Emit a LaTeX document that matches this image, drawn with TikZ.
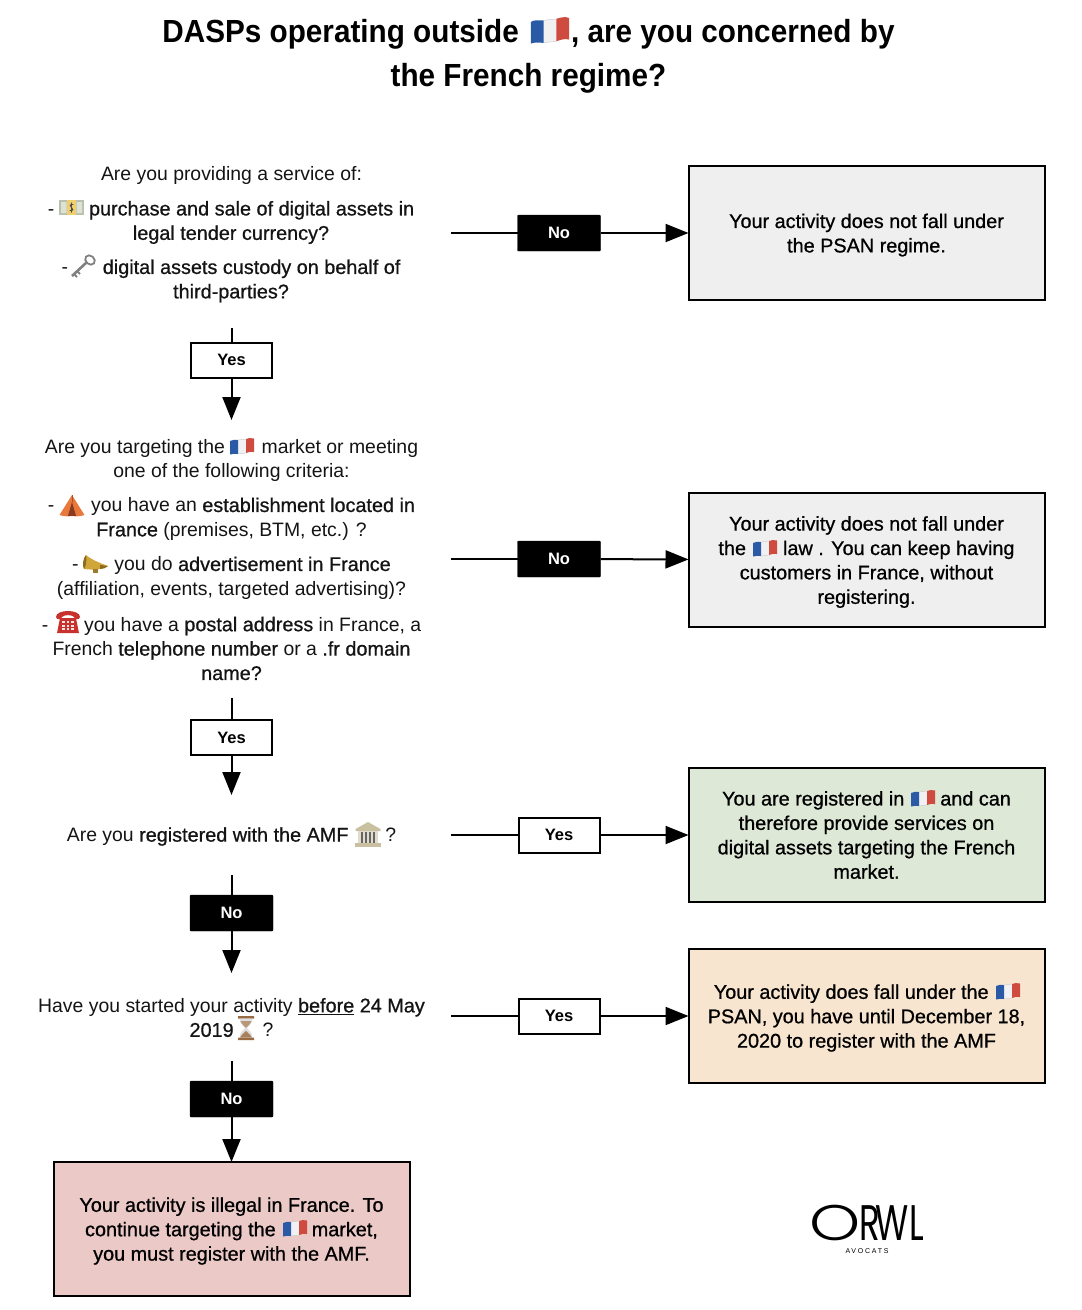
\documentclass[tikz,border=0pt]{standalone}
\usepackage{fontspec}
\usetikzlibrary{arrows.meta}
\setmainfont{Liberation Sans}
\newfontfamily\medf[FakeBold=0.8,Scale=1.022]{Liberation Sans}
\newfontfamily\titlef[FakeStretch=0.928]{Liberation Sans}
\newfontfamily\logoround[FakeStretch=1.3]{Poppins Light}
\newfontfamily\logonarrow[FakeStretch=0.68]{Poppins}
\newcommand{\md}[1]{{\medf #1}}
\newcommand{\firstline}{\rule{0pt}{18.5pt}}
\newcommand{\lowlabel}[1]{\raisebox{-2pt}{#1}}
\definecolor{boxgrey}{HTML}{EFEFEF}
\definecolor{boxgreen}{HTML}{DDE8D6}
\definecolor{boxorange}{HTML}{F8E5CF}
\definecolor{boxred}{HTML}{EBC9C7}
\definecolor{flagblue}{HTML}{2A5AA5}
\definecolor{flagred}{HTML}{CF4A3F}
\definecolor{flagwhite}{HTML}{F1F1F3}
\definecolor{moneygrey}{HTML}{B9C0AE}
\definecolor{moneygreen}{HTML}{DDE2D2}
\definecolor{moneyyellow}{HTML}{EFCF6E}
\definecolor{keygrey}{HTML}{808080}
\definecolor{tentorange}{HTML}{E8783C}
\definecolor{tentdark}{HTML}{8A3A1E}
\definecolor{horngold}{HTML}{D0A63A}
\definecolor{horndark}{HTML}{8E6A1E}
\definecolor{phonered}{HTML}{C8322E}
\definecolor{bankbeige}{HTML}{C9C0A2}
\definecolor{glassbrown}{HTML}{9A6A42}
\tikzset{
  body/.style={font=\fontsize{19.4}{24.4}\selectfont,align=center,inner sep=0pt,text=black!92},
  result/.style={draw=black,line width=2pt,minimum width=356pt,minimum height=134pt,outer sep=0pt,align=center,
     font=\fontsize{19.4}{24.4}\selectfont\medf,inner sep=0pt},
  yesbox/.style={draw=black,line width=2pt,fill=white,minimum width=81pt,minimum height=35pt,outer sep=0pt,inner sep=0pt,
     font=\fontsize{16.5}{20}\selectfont\bfseries},
  nobox/.style={draw=black,fill=black,text=white,rounded corners=1pt,minimum width=83pt,minimum height=36pt,outer sep=0pt,inner sep=0pt,
     font=\fontsize{16.5}{20}\selectfont\bfseries},
  link/.style={draw=black,line width=2pt},
  tipped/.style={link,-{Triangle[length=23pt,width=18pt]}},
  flagicon/.pic={
    \fill[flagwhite] (-4.5,-6) .. controls (-1,-6.5) and (1,-6.5) .. (4.5,-7) -- (4.5,7) .. controls (1,7.5) and (-1,7.5) .. (-4.5,8) -- cycle;
    \fill[flagblue] (-12,-5) .. controls (-10,-6.5) and (-7,-6) .. (-4,-6) -- (-4,8) .. controls (-7,8) and (-10,7.5) .. (-12,8.5) -- cycle;
    \fill[flagred] (4,-7) .. controls (6,-7.5) and (9,-8.8) .. (12,-7.5) -- (12,6) .. controls (9,5) and (6,6.5) .. (4,7) -- cycle;
    \draw[black!22,line width=.4pt] (-4,-6) .. controls (-1,-6.5) and (1,-6.5) .. (4,-7) (4,7) .. controls (1,7.5) and (-1,7.5) .. (-4,8);
  },
  moneyicon/.pic={
    \fill[moneygrey] (-12.5,-7.5) rectangle (12.5,7.5);
    \fill[moneygreen] (-10.5,-5.5) rectangle (-5,5.5) (5,-5.5) rectangle (10.5,5.5);
    \fill[moneyyellow] (-4.5,-7.5) rectangle (4.5,7.5);
    \draw[black!70,line width=.9pt] (1.8,-3) .. controls (-2,-4) and (-2,-.5) .. (0,0) .. controls (2,.5) and (2,4) .. (-1.8,3) (0,-5) -- (0,5);
  },
  keyicon/.pic={
    \draw[keygrey,line width=2.6pt] (-11,10) -- (4,-4);
    \draw[keygrey,line width=2pt] (-9,8) -- (-6,11) (-6,5) -- (-3,8);
    \draw[keygrey,line width=1.8pt,rotate around={-40:(7,-6)}] (7,-6) ellipse (5.2 and 4.2);
  },
  tenticon/.pic={
    \fill[tentorange] (0,-11) -- (12.5,9) .. controls (8,10.5) and (4,10.5) .. (0,10) .. controls (-4,10.5) and (-8,10.5) .. (-12.5,9) -- cycle;
    \fill[tentdark] (0,-4) -- (4,9.8) -- (-4,9.8) -- cycle;
    \draw[tentorange!70!black,line width=.6pt] (0,-11) -- (0,-4);
  },
  hornicon/.pic={
    \fill[horngold] (-9,-9) .. controls (-3,-4) and (5,-1) .. (13,2) .. controls (8,6) and (-2,6) .. (-11,5) .. controls (-12,1) and (-11,-5) .. (-9,-9) -- cycle;
    \fill[horndark] (-9,-9) .. controls (-12,-6) and (-13,2) .. (-11,5) .. controls (-9,4) and (-8,-6) .. (-9,-9) -- cycle;
    \fill[horngold!75!black] (-2,5) rectangle (3,9);
    \fill[horndark] (5,1) -- (13,2) .. controls (11,4) and (8,5) .. (5,5) -- cycle;
  },
  phoneicon/.pic={
    \fill[phonered] (-8,-4) -- (8,-4) -- (11,11) -- (-11,11) -- cycle;
    \fill[phonered] (-12,-5) .. controls (-12,-13) and (12,-13) .. (12,-5) .. controls (12,-2) and (6,-2) .. (6,-5) .. controls (4,-7.5) and (-4,-7.5) .. (-6,-5) .. controls (-6,-2) and (-12,-2) .. (-12,-5) -- cycle;
    \foreach \xp in {-4.5,0,4.5}{\foreach \yp in {0,3.5,7}{\fill[white!85!phonered] (\xp-1.2,\yp-1) rectangle (\xp+1.2,\yp+1);}}
  },
  bankicon/.pic={
    \fill[bankbeige] (0,-13) -- (12.5,-6) -- (12.5,-4) -- (-12.5,-4) -- (-12.5,-6) -- cycle;
    \fill[bankbeige!55!white] (-10,-4) rectangle (10,8);
    \foreach \xp in {-6,-2,2,6}{\fill[black!60] (\xp-1,-3) rectangle (\xp+1,8);}
    \fill[bankbeige] (-13,8) rectangle (13,12);
  },
  hourglassicon/.pic={
    \fill[glassbrown] (-8,-12) rectangle (8,-9.5) (-8,9.5) rectangle (8,12);
    \fill[black!12] (-6.5,-9.5) -- (6.5,-9.5) .. controls (6,-3) and (2,-2) .. (1,0) .. controls (2,2) and (6,3) .. (6.5,9.5) -- (-6.5,9.5) .. controls (-6,3) and (-2,2) .. (-1,0) .. controls (-2,-2) and (-6,-3) .. (-6.5,-9.5) -- cycle;
    \fill[glassbrown!70!white] (-5.5,-7) .. controls (-4,-3) and (-1,-2) .. (0,0) .. controls (1,-2) and (4,-3) .. (5.5,-7) -- cycle;
    \fill[glassbrown!85!white] (0,3) .. controls (2,5) and (5,7) .. (6,9.5) -- (-6,9.5) .. controls (-5,7) and (-2,5) .. (0,3) -- cycle;
  },
}
\begin{document}
\begin{tikzpicture}[x=1pt,y=-1pt]
\useasboundingbox (0,0) rectangle (1082,1310);

% title
\node[font=\fontsize{32}{44}\selectfont\titlef\bfseries,align=center,inner sep=0pt] (title) at (528.5,56)
  {DASPs operating outside \hspace{44pt}, are you concerned by\\the French regime?};

% first question
\node[body] (q1a) at (231.5,175.5) {Are you providing a service of:};
\node[body] (q1b) at (231,222.5) {- \hspace{24pt} \md{purchase and sale of digital assets in}\\\md{legal tender currency?}};
\node[body] (q1c) at (231,281) {- \hspace{24pt} \md{digital assets custody on behalf of}\\\md{third-parties?}};

% second question
\node[body] (q2a) at (231.5,460.5) {Are you targeting the \hspace{26pt} market or meeting\\one of the following criteria:};
\node[body] (q2b) at (231.5,519) {- \hspace{26pt} you have an \md{establishment located in}\\\md{France} (premises, BTM, etc.) ?};
\node[body] (q2c) at (231.5,578) {- \hspace{25pt} you do \md{advertisement in France}\\(affiliation, events, targeted advertising)?};
\node[body] (q2d) at (231.5,648.5) {- \hspace{25pt} you have a \md{postal address} in France, a\\French \md{telephone number} or a \md{.fr domain}\\\md{name?}};

% third and fourth question
\node[body] (q3) at (231.5,836.5) {Are you \md{registered with the AMF} \hspace{26pt} ?};
\node[body] (q4) at (231.5,1017.5) {Have you started your activity \md{\underline{before} 24 May}\\\md{2019}\hspace{29pt}?};

% results
\node[result,fill=boxgrey] (box1) at (866.5,233) {\firstline Your activity does not fall under\\the PSAN regime.};
\node[result,fill=boxgrey] (box2) at (866.5,560) {\firstline Your activity does not fall under\\the \hspace{26pt} law . You can keep having\\customers in France, without\\registering.};
\node[result,fill=boxgreen] (box3) at (866.5,835) {You are registered in \hspace{25pt} and can\\therefore provide services on\\digital assets targeting the French\\market.};
\node[result,fill=boxorange] (box4) at (866.5,1016) {\firstline Your activity does fall under the \hspace*{25pt}\\PSAN, you have until December 18,\\2020 to register with the AMF};
\node[result,fill=boxred] (box5) at (231.5,1229) {\firstline Your activity is illegal in France. To\\continue targeting the \hspace{25pt} market,\\you must register with the AMF.};

% horizontal decision labels
\node[nobox] (no1) at (559,233) {\lowlabel{No}};
\node[nobox] (no2) at (559,559) {\lowlabel{No}};
\node[yesbox] (yes3) at (559,835) {\lowlabel{Yes}};
\node[yesbox] (yes4) at (559,1016) {\lowlabel{Yes}};

% vertical decision labels
\node[yesbox] (yes1) at (231.5,360) {\lowlabel{Yes}};
\node[yesbox] (yes2) at (231.5,737.5) {\lowlabel{Yes}};
\node[nobox] (no3) at (231.5,913) {\lowlabel{No}};
\node[nobox] (no4) at (231.5,1099) {\lowlabel{No}};

% free connector ends
\coordinate (h1) at (451,233);
\coordinate (h2) at (451,559);
\coordinate (h3) at (451,835);
\coordinate (h4) at (451,1016);
\coordinate (v1a) at (231.5,328);
\coordinate (v1b) at (231.5,420);
\coordinate (v2a) at (231.5,698);
\coordinate (v2b) at (231.5,795);
\coordinate (v3a) at (231.5,875);
\coordinate (v3b) at (231.5,973);
\coordinate (v4a) at (231.5,1061);

% connectors
\draw[link] (h1) -- (no1);
\draw[tipped] (no1) -- (box1);
\draw[link] (h2) -- (no2);
\draw[tipped] (no2) -- (box2);
\draw[link] (h3) -- (yes3);
\draw[tipped] (yes3) -- (box3);
\draw[link] (h4) -- (yes4);
\draw[tipped] (yes4) -- (box4);
\draw[link] (v1a) -- (yes1);
\draw[tipped] (yes1) -- (v1b);
\draw[link] (v2a) -- (yes2);
\draw[tipped] (yes2) -- (v2b);
\draw[link] (v3a) -- (no3);
\draw[tipped] (no3) -- (v3b);
\draw[link] (v4a) -- (no4);
\draw[tipped] (no4) -- (box5);

% icons
\pic[scale=1.6] at (550,30) {flagicon};
\pic at (242,446) {flagicon};
\pic at (765,548) {flagicon};
\pic at (923,798) {flagicon};
\pic at (1008,991) {flagicon};
\pic at (295,1228) {flagicon};
\pic at (71.5,207.5) {moneyicon};
\pic at (83,266) {keyicon};
\pic at (72,506) {tenticon};
\pic at (95,564) {hornicon};
\pic at (68,622) {phoneicon};
\pic at (368,835) {bankicon};
\pic at (246,1028) {hourglassicon};

% logo
\node[font=\fontsize{50}{50}\selectfont,inner sep=0pt,text height=36pt,text depth=0pt] (logo) at (866.5,1222)
  {{\logoround O}\kern-1pt{\logonarrow R\kern-5pt W\kern1pt L}};
\node[font=\fontsize{7}{8}\selectfont,inner sep=0pt,text height=5pt,text depth=0pt] (avocats) at (867,1251) {\addfontfeature{LetterSpace=25}AVOCATS};
\end{tikzpicture}
\end{document}
